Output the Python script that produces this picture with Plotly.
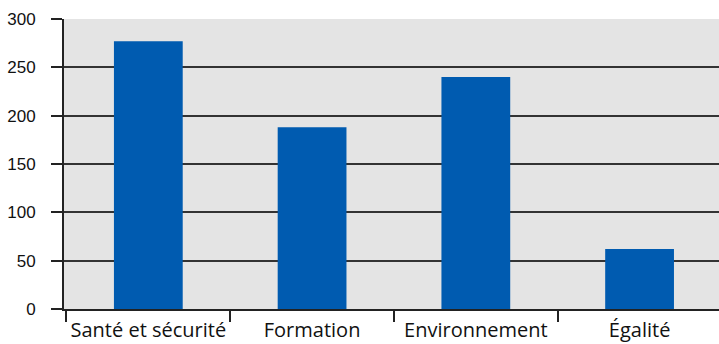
import plotly.graph_objects as go

categories = ["Santé et sécurité", "Formation", "Environnement", "Égalité"]
values = [277, 188, 240, 62]
y_ticks = [0, 50, 100, 150, 200, 250, 300]

fig = go.Figure(go.Bar(
    x=categories, y=values,
    marker=dict(color="#005bb0", line=dict(width=0)),
    width=0.42,
))

fig.update_layout(
    width=719, height=344,
    margin=dict(l=64, r=0, t=19, b=35),
    paper_bgcolor="white",
    plot_bgcolor="#e4e4e4",
    showlegend=False,
)
fig.update_xaxes(
    range=[-0.515, 3.485],
    tickson="boundaries", ticks="outside", ticklen=11, tickwidth=2, tickcolor="#222",
    showline=True, linecolor="#222", linewidth=2,
    showgrid=False,
    tickfont=dict(family="Open Sans", size=20, color="#111"),
    tickangle=0, automargin=False,
    ticklabelstandoff=2,
)
fig.update_yaxes(
    range=[0, 300], tickvals=y_ticks,
    ticks="outside", ticklen=11, tickwidth=2, tickcolor="#222",
    showline=True, linecolor="#222", linewidth=2,
    showgrid=True, gridcolor="#333", gridwidth=2,
    zeroline=False,
    tickfont=dict(family="Liberation Sans", size=17, color="#111"),
    ticklabelstandoff=12, automargin=False,
)
fig.write_html("out.html")
